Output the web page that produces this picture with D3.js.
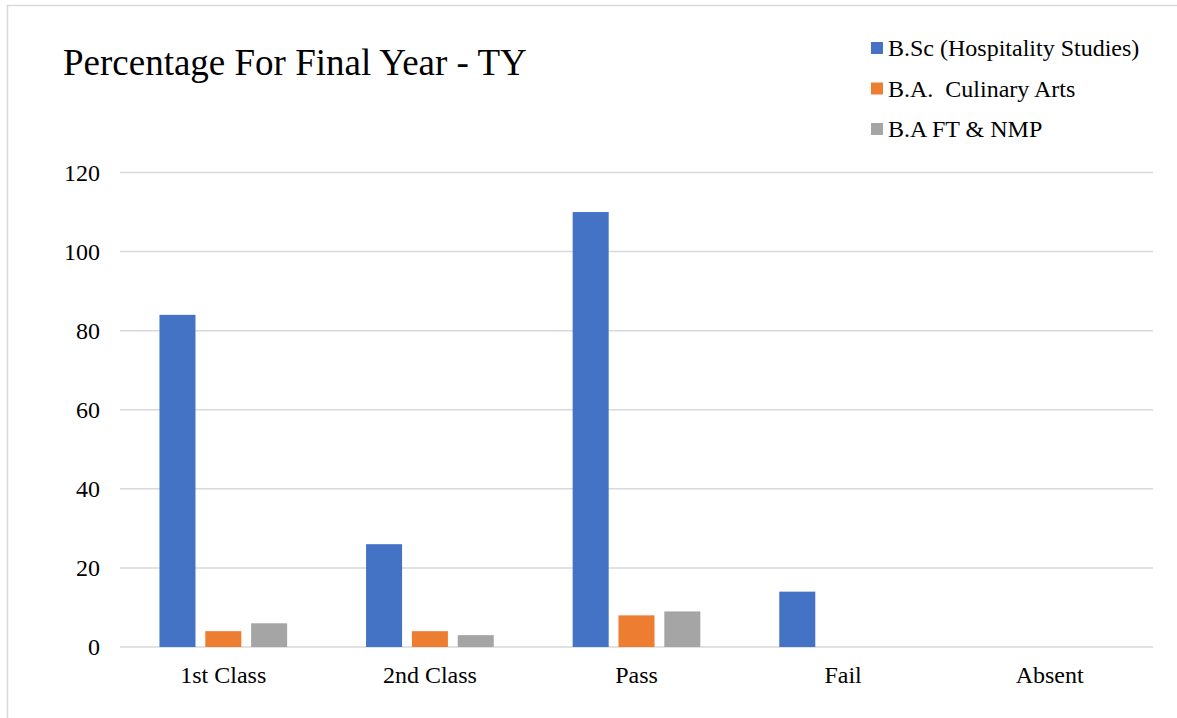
<!DOCTYPE html>
<html>
<head>
<meta charset="utf-8">
<script src="https://cdn.jsdelivr.net/npm/d3@7"></script>
<style>
  html, body { margin: 0; padding: 0; background: #fff; }
  svg { display: block; font-family: "Liberation Serif", "Times New Roman", serif; }
</style>
</head>
<body>
<svg id="chart" width="1177" height="718"></svg>
<script>
const categories = ["1st Class", "2nd Class", "Pass", "Fail", "Absent"];
const seriesNames = ["B.Sc (Hospitality Studies)", "B.A.  Culinary Arts", "B.A FT & NMP"];
const bscValues = [84, 26, 110, 14, 0];
const baCulinaryValues = [4, 4, 8, 0, 0];
const baFtValues = [6, 3, 9, 0, 0];
const yTicks = [0, 20, 40, 60, 80, 100, 120];
const colors = ["#4472C4", "#ED7D31", "#A5A5A5"];
const title = "Percentage For Final Year - TY";

const seriesValues = [bscValues, baCulinaryValues, baFtValues];

const svg = d3.select("#chart");

// chart border
svg.append("rect")
  .attr("x", 7.5).attr("y", 5.5)
  .attr("width", 1200).attr("height", 800)
  .attr("fill", "none").attr("stroke", "#D9D9D9").attr("stroke-width", 1.5);

const plotLeft = 120, plotRight = 1153, plotTop = 172.5, plotBottom = 647;

const x0 = d3.scaleBand().domain(categories).range([plotLeft, plotRight])
  .paddingInner(0.382).paddingOuter(0.191);
const x1 = d3.scaleBand().domain(d3.range(seriesNames.length))
  .range([0, x0.bandwidth()]).paddingInner(0.214).paddingOuter(0);
const y = d3.scaleLinear().domain([0, 120]).range([plotBottom, plotTop]);

// gridlines
svg.append("g").selectAll("line").data(yTicks).join("line")
  .attr("x1", plotLeft).attr("x2", plotRight)
  .attr("y1", d => y(d)).attr("y2", d => y(d))
  .attr("stroke", "#D9D9D9").attr("stroke-width", 1.5);

// y tick labels
svg.append("g").selectAll("text").data(yTicks).join("text")
  .attr("x", 100).attr("y", d => y(d))
  .attr("dy", "0.35em")
  .attr("text-anchor", "end")
  .attr("font-size", 24).attr("fill", "#000")
  .text(d => d);

// bars
const groups = svg.append("g").selectAll("g").data(categories).join("g")
  .attr("transform", c => `translate(${x0(c)},0)`);
groups.selectAll("rect")
  .data((c, ci) => seriesValues.map((vals, si) => ({ si, v: vals[ci] })))
  .join("rect")
  .attr("x", d => x1(d.si))
  .attr("width", x1.bandwidth())
  .attr("y", d => y(d.v))
  .attr("height", d => y(0) - y(d.v))
  .attr("fill", d => colors[d.si]);

// x labels
svg.append("g").selectAll("text").data(categories).join("text")
  .attr("x", c => x0(c) + x0.bandwidth() / 2)
  .attr("y", 683)
  .attr("text-anchor", "middle")
  .attr("font-size", 24).attr("fill", "#000")
  .text(c => c);

// title
svg.append("text")
  .attr("x", 63).attr("y", 75)
  .attr("font-size", 37).attr("fill", "#000")
  .text(title);

// legend
const legend = svg.append("g").selectAll("g").data(seriesNames).join("g")
  .attr("transform", (d, i) => `translate(871, ${48 + i * 40.5})`);
legend.append("rect")
  .attr("x", 0).attr("y", -6).attr("width", 12).attr("height", 12)
  .attr("fill", (d, i) => colors[i]);
legend.append("text")
  .attr("x", 17).attr("y", 0).attr("dy", "0.35em")
  .attr("font-size", 24).attr("fill", "#000")
  .style("white-space", "pre")
  .text(d => d);
</script>
</body>
</html>
